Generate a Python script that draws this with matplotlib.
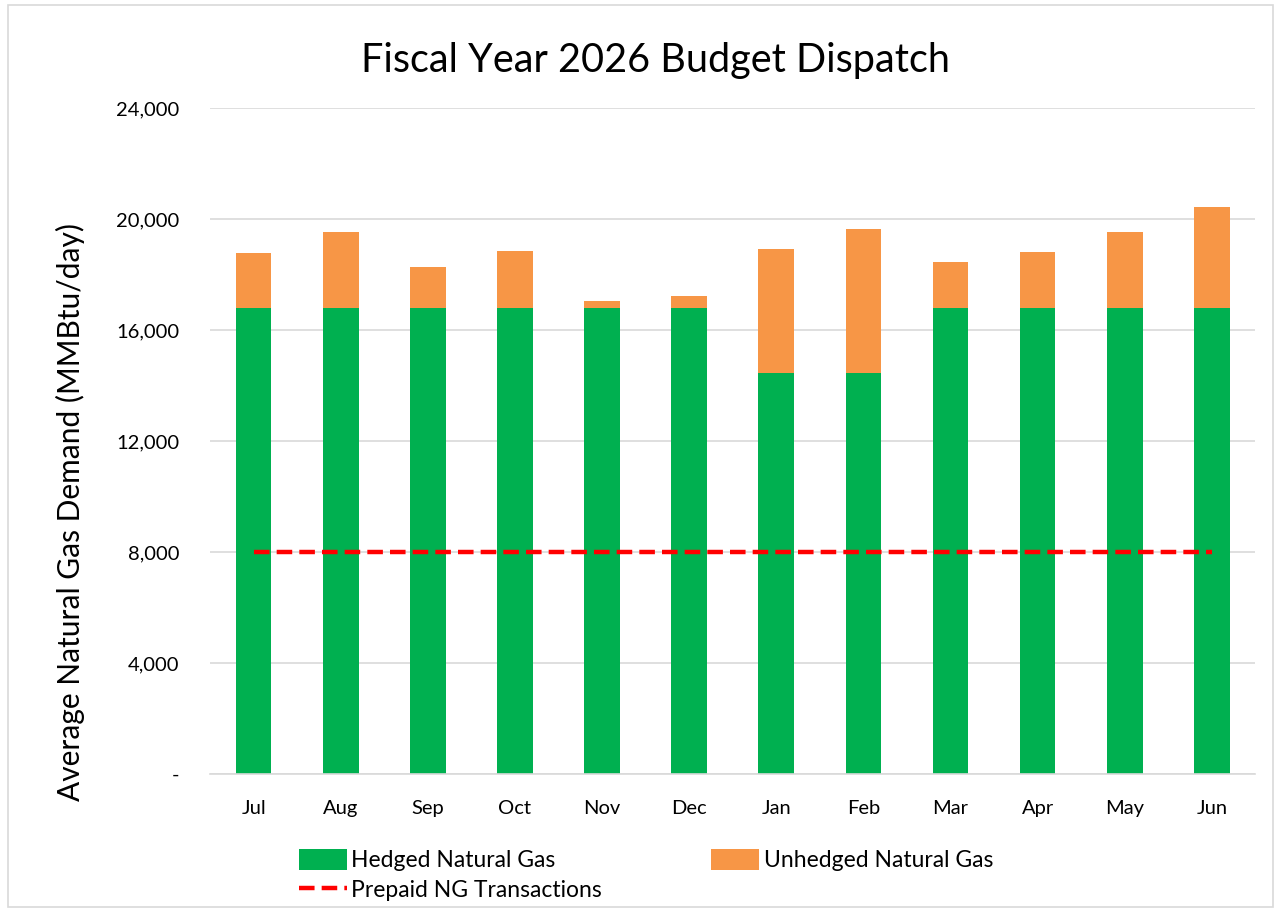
import numpy as np
import matplotlib
matplotlib.use('Agg')
import matplotlib.pyplot as plt
from matplotlib.ticker import FuncFormatter

plt.rcParams['font.family'] = ['Lato', 'DejaVu Sans']

months = ['Jul', 'Aug', 'Sep', 'Oct', 'Nov', 'Dec', 'Jan', 'Feb', 'Mar', 'Apr', 'May', 'Jun']
hedged = [16800, 16800, 16800, 16800, 16800, 16800, 14450, 14450, 16800, 16800, 16800, 16800]
totals = [18800, 19530, 18270, 18850, 17050, 17230, 18920, 19640, 18450, 18810, 19530, 20430]
unhedged = [t - h for t, h in zip(totals, hedged)]
prepaid = [8000] * 12

fig = plt.figure(figsize=(12.81, 9.10), dpi=100)
ax = fig.add_axes([0.164, 0.1495, 0.816, 0.7315])

x = np.arange(len(months))
b1 = ax.bar(x, hedged, width=0.41, color='#00B050', label='Hedged Natural Gas', zorder=2)
b2 = ax.bar(x, unhedged, width=0.41, bottom=hedged, color='#F79646', label='Unhedged Natural Gas', zorder=2)
l1, = ax.plot(x, prepaid, color='#FF0000', lw=3.2, dashes=(3.5, 1.6), label='Prepaid NG Transactions', zorder=3)

ax.set_xlim(-0.5, 11.5)
ax.set_ylim(0, 24000)
ax.set_yticks(np.arange(0, 24001, 4000))
ax.yaxis.set_major_formatter(FuncFormatter(lambda v, p: '-' if v == 0 else f'{int(v):,}'))
ax.set_xticks(x)
ax.set_xticklabels(months)
ax.grid(axis='y', color='#D9D9D9', lw=1.2, zorder=0)
for s in ['top', 'right', 'left']:
    ax.spines[s].set_visible(False)
ax.spines['bottom'].set_color('#D9D9D9')
ax.spines['bottom'].set_linewidth(1.2)
ax.tick_params(axis='both', length=0, labelsize=14.5, colors='#000000')
ax.tick_params(axis='y', pad=22)
ax.tick_params(axis='x', pad=19)

ax.set_ylabel('Average Natural Gas Demand (MMBtu/day)', fontsize=21.5)
ax.yaxis.set_label_coords(-0.12, 0.393)
fig.text(0.512, 0.934, 'Fiscal Year 2026 Budget Dispatch', fontsize=28.5, ha='center', va='center')

fig.legend(handles=[b1, l1, b2], labels=['Hedged Natural Gas', 'Prepaid NG Transactions', 'Unhedged Natural Gas'],
           ncol=2, loc='upper left', bbox_to_anchor=(0.226, 0.077), frameon=False, fontsize=16.5,
           handlelength=2.1, handleheight=1.0, handletextpad=0.2, columnspacing=4.75, labelspacing=0.35,
           borderaxespad=0)

fig.patches.append(plt.Rectangle((0.006, 0.003), 0.988, 0.991, transform=fig.transFigure,
                                 fill=False, edgecolor='#D9D9D9', lw=1.2))

fig.savefig('out.png', dpi=100)
